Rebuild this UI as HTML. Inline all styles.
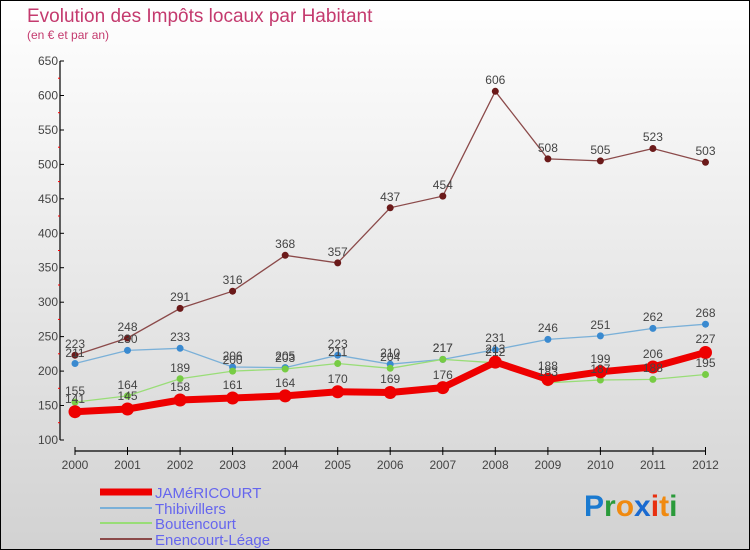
<!DOCTYPE html>
<html><head><meta charset="utf-8"><style>
body{margin:0;width:750px;height:550px;overflow:hidden}
svg{display:block;font-family:"Liberation Sans",sans-serif}
</style></head><body>
<svg width="750" height="550" viewBox="0 0 750 550">
<defs><linearGradient id="bg" x1="0" y1="0" x2="0" y2="1"><stop offset="0" stop-color="#ffffff"/><stop offset="1" stop-color="#d2d2d2"/></linearGradient></defs>
<rect x="0.5" y="0.5" width="749" height="549" fill="url(#bg)" stroke="#000"/>
<text x="27" y="22" font-size="19" fill="#c43a6e">Evolution des Impôts locaux par Habitant</text>
<text x="27" y="39" font-size="12" fill="#c43a6e">(en € et par an)</text>
<g stroke="#000" stroke-width="1.2">
<line x1="60" y1="61" x2="60" y2="440"/>
<line x1="75" y1="451" x2="706" y2="451"/>
</g>
<g stroke="#000">
<line x1="60" y1="61" x2="64" y2="61"/><line x1="60" y1="95.5" x2="64" y2="95.5"/><line x1="60" y1="130" x2="64" y2="130"/><line x1="60" y1="164.4" x2="64" y2="164.4"/><line x1="60" y1="198.8" x2="64" y2="198.8"/><line x1="60" y1="233.3" x2="64" y2="233.3"/><line x1="60" y1="267.7" x2="64" y2="267.7"/><line x1="60" y1="302.2" x2="64" y2="302.2"/><line x1="60" y1="336.6" x2="64" y2="336.6"/><line x1="60" y1="371.1" x2="64" y2="371.1"/><line x1="60" y1="405.5" x2="64" y2="405.5"/><line x1="60" y1="440" x2="64" y2="440"/>
<line x1="75" y1="447" x2="75" y2="455"/><line x1="127.5" y1="447" x2="127.5" y2="455"/><line x1="180.1" y1="447" x2="180.1" y2="455"/><line x1="232.6" y1="447" x2="232.6" y2="455"/><line x1="285.2" y1="447" x2="285.2" y2="455"/><line x1="337.7" y1="447" x2="337.7" y2="455"/><line x1="390.2" y1="447" x2="390.2" y2="455"/><line x1="442.8" y1="447" x2="442.8" y2="455"/><line x1="495.3" y1="447" x2="495.3" y2="455"/><line x1="547.9" y1="447" x2="547.9" y2="455"/><line x1="600.4" y1="447" x2="600.4" y2="455"/><line x1="652.9" y1="447" x2="652.9" y2="455"/><line x1="705.5" y1="447" x2="705.5" y2="455"/>
</g>
<g stroke="#f00"><line x1="58" y1="78.2" x2="60" y2="78.2"/><line x1="58" y1="112.7" x2="60" y2="112.7"/><line x1="58" y1="147.2" x2="60" y2="147.2"/><line x1="58" y1="181.6" x2="60" y2="181.6"/><line x1="58" y1="216" x2="60" y2="216"/><line x1="58" y1="250.5" x2="60" y2="250.5"/><line x1="58" y1="285" x2="60" y2="285"/><line x1="58" y1="319.4" x2="60" y2="319.4"/><line x1="58" y1="353.8" x2="60" y2="353.8"/><line x1="58" y1="388.3" x2="60" y2="388.3"/><line x1="58" y1="422.7" x2="60" y2="422.7"/></g>
<g font-size="12" fill="#444" text-anchor="end">
<text x="58" y="65">650</text><text x="58" y="99.5">600</text><text x="58" y="134">550</text><text x="58" y="168.4">500</text><text x="58" y="202.8">450</text><text x="58" y="237.3">400</text><text x="58" y="271.7">350</text><text x="58" y="306.2">300</text><text x="58" y="340.6">250</text><text x="58" y="375.1">200</text><text x="58" y="409.5">150</text><text x="58" y="444">100</text>
</g>
<g font-size="12" fill="#444" text-anchor="middle">
<text x="75" y="469">2000</text><text x="127.5" y="469">2001</text><text x="180.1" y="469">2002</text><text x="232.6" y="469">2003</text><text x="285.2" y="469">2004</text><text x="337.7" y="469">2005</text><text x="390.2" y="469">2006</text><text x="442.8" y="469">2007</text><text x="495.3" y="469">2008</text><text x="547.9" y="469">2009</text><text x="600.4" y="469">2010</text><text x="652.9" y="469">2011</text><text x="705.5" y="469">2012</text>
</g>
<polyline fill="none" stroke="#8b4a4a" stroke-width="1.3" points="75,355.2 127.5,338 180.1,308.4 232.6,291.2 285.2,255.3 337.7,262.9 390.2,207.8 442.8,196.1 495.3,91.3 547.9,158.9 600.4,160.9 652.9,148.5 705.5,162.3"/>
<g fill="#6b1a1a"><circle cx="75" cy="355.2" r="3.5"/><circle cx="127.5" cy="338" r="3.5"/><circle cx="180.1" cy="308.4" r="3.5"/><circle cx="232.6" cy="291.2" r="3.5"/><circle cx="285.2" cy="255.3" r="3.5"/><circle cx="337.7" cy="262.9" r="3.5"/><circle cx="390.2" cy="207.8" r="3.5"/><circle cx="442.8" cy="196.1" r="3.5"/><circle cx="495.3" cy="91.3" r="3.5"/><circle cx="547.9" cy="158.9" r="3.5"/><circle cx="600.4" cy="160.9" r="3.5"/><circle cx="652.9" cy="148.5" r="3.5"/><circle cx="705.5" cy="162.3" r="3.5"/></g>
<polyline fill="none" stroke="#7ab0d8" stroke-width="1.3" points="75,363.5 127.5,350.4 180.1,348.3 232.6,367 285.2,367.6 337.7,355.2 390.2,364.2 442.8,359.4 495.3,349.7 547.9,339.4 600.4,335.9 652.9,328.4 705.5,324.2"/>
<g fill="#3a8ad0"><circle cx="75" cy="363.5" r="3.5"/><circle cx="127.5" cy="350.4" r="3.5"/><circle cx="180.1" cy="348.3" r="3.5"/><circle cx="232.6" cy="367" r="3.5"/><circle cx="285.2" cy="367.6" r="3.5"/><circle cx="337.7" cy="355.2" r="3.5"/><circle cx="390.2" cy="364.2" r="3.5"/><circle cx="442.8" cy="359.4" r="3.5"/><circle cx="495.3" cy="349.7" r="3.5"/><circle cx="547.9" cy="339.4" r="3.5"/><circle cx="600.4" cy="335.9" r="3.5"/><circle cx="652.9" cy="328.4" r="3.5"/><circle cx="705.5" cy="324.2" r="3.5"/></g>
<polyline fill="none" stroke="#99dd77" stroke-width="1.3" points="75,402.1 127.5,395.9 180.1,378.7 232.6,371.1 285.2,369 337.7,363.5 390.2,368.3 442.8,359.4 495.3,362.8 547.9,382.8 600.4,380 652.9,379.4 705.5,374.5"/>
<g fill="#77cc44"><circle cx="75" cy="402.1" r="3.5"/><circle cx="127.5" cy="395.9" r="3.5"/><circle cx="180.1" cy="378.7" r="3.5"/><circle cx="232.6" cy="371.1" r="3.5"/><circle cx="285.2" cy="369" r="3.5"/><circle cx="337.7" cy="363.5" r="3.5"/><circle cx="390.2" cy="368.3" r="3.5"/><circle cx="442.8" cy="359.4" r="3.5"/><circle cx="495.3" cy="362.8" r="3.5"/><circle cx="547.9" cy="382.8" r="3.5"/><circle cx="600.4" cy="380" r="3.5"/><circle cx="652.9" cy="379.4" r="3.5"/><circle cx="705.5" cy="374.5" r="3.5"/></g>
<polyline fill="none" stroke="#e00" stroke-width="7" stroke-linejoin="round" points="75,411.7 127.5,409 180.1,400 232.6,398 285.2,395.9 337.7,391.8 390.2,392.5 442.8,387.6 495.3,362.1 547.9,379.4 600.4,371.8 652.9,367 705.5,352.5"/>
<g fill="#e00"><circle cx="75" cy="411.7" r="6.5"/><circle cx="127.5" cy="409" r="6.5"/><circle cx="180.1" cy="400" r="6.5"/><circle cx="232.6" cy="398" r="6.5"/><circle cx="285.2" cy="395.9" r="6.5"/><circle cx="337.7" cy="391.8" r="6.5"/><circle cx="390.2" cy="392.5" r="6.5"/><circle cx="442.8" cy="387.6" r="6.5"/><circle cx="495.3" cy="362.1" r="6.5"/><circle cx="547.9" cy="379.4" r="6.5"/><circle cx="600.4" cy="371.8" r="6.5"/><circle cx="652.9" cy="367" r="6.5"/><circle cx="705.5" cy="352.5" r="6.5"/></g>
<g font-size="12" fill="#444" text-anchor="middle">
<text x="75" y="348">223</text><text x="127.5" y="331">248</text><text x="180.1" y="301">291</text><text x="232.6" y="284">316</text><text x="285.2" y="248">368</text><text x="337.7" y="256">357</text><text x="390.2" y="201">437</text><text x="442.8" y="189">454</text><text x="495.3" y="84">606</text><text x="547.9" y="152">508</text><text x="600.4" y="154">505</text><text x="652.9" y="141">523</text><text x="705.5" y="155">503</text>
<text x="75" y="357">211</text><text x="127.5" y="343">230</text><text x="180.1" y="341">233</text><text x="232.6" y="360">206</text><text x="285.2" y="360">205</text><text x="337.7" y="348">223</text><text x="390.2" y="357">210</text><text x="442.8" y="352">217</text><text x="495.3" y="342">231</text><text x="547.9" y="332">246</text><text x="600.4" y="329">251</text><text x="652.9" y="321">262</text><text x="705.5" y="317">268</text>
<text x="75" y="395">155</text><text x="127.5" y="389">164</text><text x="180.1" y="372">189</text><text x="232.6" y="364">200</text><text x="285.2" y="362">203</text><text x="337.7" y="356">211</text><text x="390.2" y="361">204</text><text x="442.8" y="352">217</text><text x="495.3" y="356">212</text><text x="547.9" y="376">183</text><text x="600.4" y="373">187</text><text x="652.9" y="372">188</text><text x="705.5" y="367">195</text>
<text x="75" y="403">141</text><text x="127.5" y="400">145</text><text x="180.1" y="391">158</text><text x="232.6" y="389">161</text><text x="285.2" y="387">164</text><text x="337.7" y="383">170</text><text x="390.2" y="383">169</text><text x="442.8" y="379">176</text><text x="495.3" y="353">213</text><text x="547.9" y="370">188</text><text x="600.4" y="363">199</text><text x="652.9" y="358">206</text><text x="705.5" y="343">227</text>
</g>
<line x1="100" y1="492" x2="152" y2="492" stroke="#e00" stroke-width="7"/>
<line x1="100" y1="508" x2="152" y2="508" stroke="#7ab0d8" stroke-width="2"/>
<line x1="100" y1="523" x2="152" y2="523" stroke="#99dd77" stroke-width="2"/>
<line x1="100" y1="539" x2="152" y2="539" stroke="#8b4a4a" stroke-width="2"/>
<g font-size="15" fill="#6666ee">
<text x="155" y="498">JAMéRICOURT</text><text x="155" y="514">Thibivillers</text><text x="155" y="529">Boutencourt</text><text x="155" y="545">Enencourt-Léage</text>
</g>
<text x="584" y="516" font-size="30" font-weight="bold"><tspan fill="#1a7ad0">P</tspan><tspan fill="#2a9a3a">r</tspan><tspan fill="#f08a10">o</tspan><tspan fill="#1a6ad0">x</tspan><tspan fill="#e83010">i</tspan><tspan fill="#f08a10">t</tspan><tspan fill="#2a9a3a">i</tspan></text>
</svg>
</body></html>
